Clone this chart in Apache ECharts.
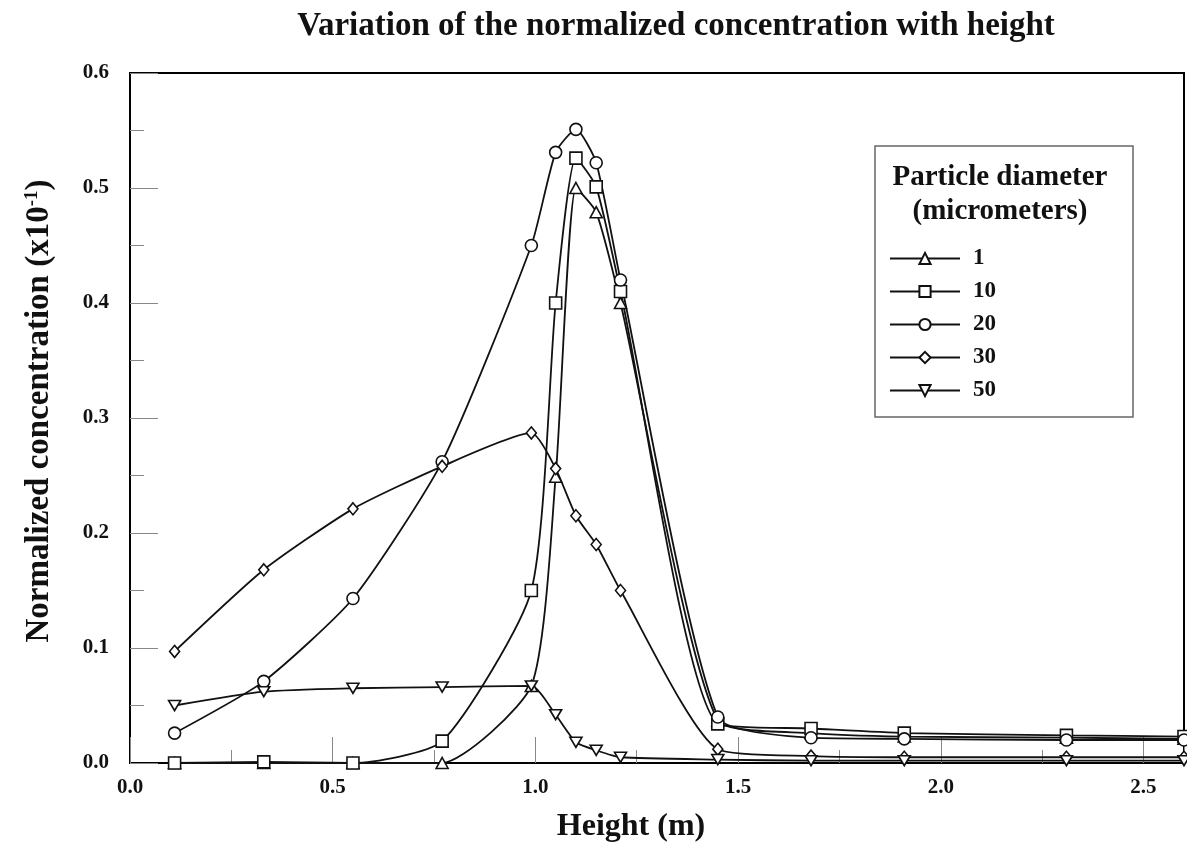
<!DOCTYPE html>
<html><head><meta charset="utf-8">
<script src="https://cdn.jsdelivr.net/npm/echarts@6/dist/echarts.min.js"></script>
<style>html,body{margin:0;padding:0;background:#fff}#c{width:1187px;height:854px}</style>
</head><body><div id="c"></div>
<script>
const heights = [0.11, 0.33, 0.55, 0.77, 0.99, 1.05, 1.10, 1.15, 1.21, 1.45, 1.68, 1.91, 2.31, 2.60];
const names = ['1', '10', '20', '30', '50'];
const conc1  = [0, 0, 0, 0, 0.067, 0.249, 0.500, 0.479, 0.400, 0.037, 0.026, 0.023, 0.022, 0.021];
const conc10 = [0, 0.001, 0, 0.019, 0.150, 0.400, 0.526, 0.501, 0.410, 0.034, 0.030, 0.026, 0.024, 0.023];
const conc20 = [0.026, 0.071, 0.143, 0.262, 0.450, 0.531, 0.551, 0.522, 0.420, 0.040, 0.022, 0.021, 0.020, 0.020];
const conc30 = [0.097, 0.168, 0.221, 0.258, 0.287, 0.256, 0.215, 0.190, 0.150, 0.012, 0.006, 0.005, 0.005, 0.005];
const conc50 = [0.050, 0.062, 0.065, 0.066, 0.067, 0.042, 0.018, 0.011, 0.005, 0.003, 0.002, 0.002, 0.002, 0.002];
const xTicks = [0.0, 0.5, 1.0, 1.5, 2.0, 2.5];
const yTicks = [0.0, 0.1, 0.2, 0.3, 0.4, 0.5, 0.6];

const serif = "'Liberation Serif', 'Times New Roman', 'DejaVu Serif', serif";
const symbols = ['triangle', 'rect', 'circle', 'diamond', 'path://M0,0 L10,0 L5,8.66 Z'];
const sizes = [[12, 11], 12, 12, [10, 12], [12, 10]];
const allConc = [conc1, conc10, conc20, conc30, conc50];

const chart = echarts.init(document.getElementById('c'), null, {renderer: 'canvas'});
const option = {
  backgroundColor: '#fff',
  animation: false,
  title: {
    text: 'Variation of the normalized concentration with height',
    left: 671, top: 5, textAlign: 'center',
    textStyle: {fontFamily: serif, fontWeight: 'bold', fontSize: 33, color: '#111'}
  },
  grid: {left: 130, top: 73, right: -4, bottom: 91, show: true, borderColor: '#000', borderWidth: 2, backgroundColor: 'transparent'},
  legend: {
    orient: 'vertical', left: 884, top: 242, itemWidth: 70, itemHeight: 14, itemGap: 10,
    data: names,
    textStyle: {fontFamily: serif, fontWeight: 'bold', fontSize: 23, color: '#111', padding: [0, 0, 0, 8]}
  },
  graphic: [
    {type: 'rect', shape: {x: 875, y: 146, width: 258, height: 271}, style: {fill: 'none', stroke: '#666', lineWidth: 1.5}, z: 10},
    {type: 'text', x: 1000, y: 178, style: {text: 'Particle diameter', fontFamily: serif, fontWeight: 'bold', fontSize: 29, fill: '#111', textAlign: 'center', textVerticalAlign: 'middle'}, z: 10},
    {type: 'text', x: 1000, y: 212, style: {text: '(micrometers)', fontFamily: serif, fontWeight: 'bold', fontSize: 29, fill: '#111', textAlign: 'center', textVerticalAlign: 'middle'}, z: 10}
  ],
  xAxis: [{
    type: 'value', min: 0, max: 2.6, interval: 0.5, position: 'bottom',
    name: 'Height (m)', nameLocation: 'middle', nameGap: 48,
    nameTextStyle: {fontFamily: serif, fontWeight: 'bold', fontSize: 32, color: '#111', padding: [0, 52, 0, 0]},
    axisLine: {show: true, lineStyle: {color: '#000', width: 2}},
    axisTick: {show: true, inside: true, length: 26, lineStyle: {color: '#888', width: 1}},
    axisLabel: {margin: 14, fontFamily: serif, fontWeight: 'bold', fontSize: 21, color: '#111',
      formatter: v => { const t = xTicks.find(k => Math.abs(k - v) < 1e-6); return t === undefined ? '' : t.toFixed(1); }},
    splitLine: {show: false}
  }, {
    type: 'value', min: 0, max: 2.6, interval: 0.25, position: 'bottom',
    axisLine: {show: false},
    axisTick: {show: true, inside: true, length: 13, lineStyle: {color: '#888', width: 1}},
    axisLabel: {show: false}, splitLine: {show: false}
  }],
  yAxis: {
    type: 'value', min: 0, max: 0.6, interval: 0.1,
    name: '{a|Normalized concentration (x10}{s|-1}{a|)}', nameLocation: 'middle', nameGap: 74,
    nameTextStyle: {padding: [0, 0, 0, 14], rich: {
      a: {fontFamily: serif, fontWeight: 'bold', fontSize: 33, color: '#111'},
      s: {fontFamily: serif, fontWeight: 'bold', fontSize: 19, color: '#111', verticalAlign: 'top', padding: [0, 0, 14, 0]}
    }},
    axisLine: {show: true, lineStyle: {color: '#000', width: 2}},
    axisTick: {show: true, inside: true, length: 28, lineStyle: {color: '#888', width: 1}},
    minorTick: {show: true, splitNumber: 2, length: 14, lineStyle: {color: '#888', width: 1}},
    axisLabel: {margin: 21, fontFamily: serif, fontWeight: 'bold', fontSize: 21, color: '#111',
      formatter: v => { const t = yTicks.find(k => Math.abs(k - v) < 1e-6); return t === undefined ? '' : t.toFixed(1); }},
    splitLine: {show: false}
  },
  series: names.map((n, i) => ({
    name: n, type: 'line', xAxisIndex: 0,
    data: heights.map((h, j) => [h, allConc[i][j]]),
    smooth: 0.2,
    symbol: symbols[i], symbolSize: sizes[i], showAllSymbol: true,
    clip: false,
    lineStyle: {color: '#111', width: 1.8},
    itemStyle: {color: '#fff', borderColor: '#111', borderWidth: 1.6},
    emphasis: {disabled: true}
  }))
};
chart.setOption(option);
</script>
</body></html>
